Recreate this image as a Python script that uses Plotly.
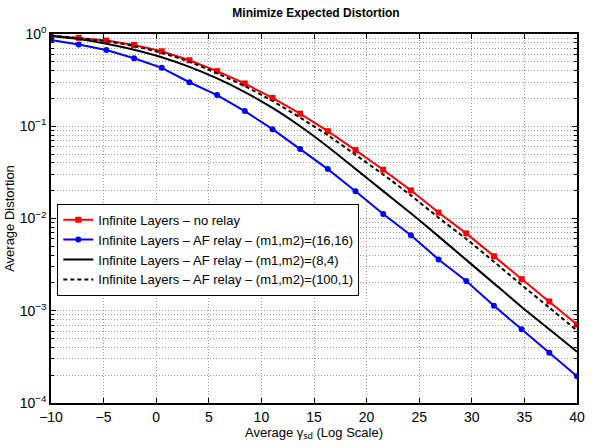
import numpy as np
import plotly.graph_objects as go

x = [-10.0, -7.368, -4.737, -2.105, 0.526, 3.158, 5.789, 8.421, 11.053, 13.684,
     16.316, 18.947, 21.579, 24.211, 26.842, 29.474, 32.105, 34.737, 37.368, 40.0]

red = [0.96, 0.91, 0.85, 0.76, 0.65, 0.52, 0.396, 0.291, 0.203, 0.137,
       0.0884, 0.0552, 0.0338, 0.0202, 0.0116, 0.0069, 0.0039, 0.0022, 0.00126, 0.00071]
blue = [0.86, 0.77, 0.67, 0.545, 0.43, 0.30, 0.218, 0.146, 0.093, 0.0567,
        0.0343, 0.0197, 0.0112, 0.0066, 0.0036, 0.0021, 0.00113, 0.00063, 0.00035, 0.000195]
black = [0.95, 0.88, 0.785, 0.675, 0.56, 0.44, 0.33, 0.235, 0.158, 0.1,
         0.06, 0.0345, 0.0198, 0.0114, 0.0064, 0.00356, 0.00198, 0.0011, 0.00063, 0.00036]
dashed = [0.96, 0.90, 0.835, 0.74, 0.625, 0.50, 0.375, 0.272, 0.188, 0.124,
          0.080, 0.049, 0.030, 0.0178, 0.0102, 0.0060, 0.0034, 0.0019, 0.00108, 0.00061]

names = ["Infinite Layers – no relay",
         "Infinite Layers – AF relay – (m1,m2)=(16,16)",
         "Infinite Layers – AF relay – (m1,m2)=(8,4)",
         "Infinite Layers – AF relay – (m1,m2)=(100,1)"]

ytickvals = [1, 0.1, 0.01, 0.001, 0.0001]
yticktext = ["10<sup>0</sup>", "10<sup>−1</sup>", "10<sup>−2</sup>", "10<sup>−3</sup>", "10<sup>−4</sup>"]
xtickvals = [-10, -5, 0, 5, 10, 15, 20, 25, 30, 35, 40]
xticktext = ["−10", "−5", "0", "5", "10", "15", "20", "25", "30", "35", "40"]

font = "Liberation Sans Narrow, Liberation Sans, Arial, sans-serif"
gridc = "#9a9a9a"

fig = go.Figure()
fig.add_trace(go.Scatter(x=x, y=red, name=names[0], mode="lines+markers",
                         line=dict(color="#ff0000", width=2),
                         marker=dict(symbol="square", size=6, color="#ff0000")))
fig.add_trace(go.Scatter(x=x, y=blue, name=names[1], mode="lines+markers",
                         line=dict(color="#0000ff", width=2),
                         marker=dict(symbol="circle", size=6, color="#0000ff")))
fig.add_trace(go.Scatter(x=x, y=black, name=names[2], mode="lines",
                         line=dict(color="black", width=2, shape="spline", smoothing=0.6)))
fig.add_trace(go.Scatter(x=x, y=dashed, name=names[3], mode="lines",
                         line=dict(color="black", width=2, dash="4px,3px", shape="spline", smoothing=0.6)))

fig.update_layout(
    width=594, height=448,
    margin=dict(l=47, r=9, t=34, b=45),
    paper_bgcolor="white", plot_bgcolor="white",
    font=dict(family=font, size=13, color="black"),
    title=dict(text="<b>Minimize Expected Distortion</b>", x=0.532, xanchor="center",
               y=0.972, yanchor="middle", font=dict(size=12, family=font)),
    showlegend=True,
    legend=dict(x=0.012, y=0.54, xanchor="left", yanchor="top",
                bgcolor="white", bordercolor="black", borderwidth=1,
                font=dict(size=13, family=font), tracegroupgap=0,
                itemwidth=30),
)
fig.update_xaxes(range=[-10, 40], tickvals=xtickvals, ticktext=xticktext,
                 showline=True, linecolor="black", linewidth=1.5, mirror="ticks",
                 ticks="inside", ticklen=5, tickcolor="black",
                 showgrid=True, gridcolor=gridc, griddash="1px,2px", gridwidth=1,
                 zeroline=False, tickfont=dict(size=14),
                 title=dict(text="Average γ<sub>sd</sub> (Log Scale)", standoff=4,
                            font=dict(size=13, family=font)))
fig.update_yaxes(type="log", range=[-4, 0], tickvals=ytickvals, ticktext=yticktext,
                 showline=True, linecolor="black", linewidth=1.5, mirror="ticks",
                 ticks="inside", ticklen=5, tickcolor="black",
                 showgrid=True, gridcolor=gridc, griddash="1px,2px", gridwidth=1,
                 zeroline=False, tickfont=dict(size=14),
                 minor=dict(dtick="D1", ticks="inside", ticklen=3, tickcolor="black",
                            showgrid=True, gridcolor=gridc, griddash="1px,2px", gridwidth=1),
                 title=dict(text="Average Distortion", standoff=2,
                            font=dict(size=13, family=font)))

fig.write_html("out.html")
